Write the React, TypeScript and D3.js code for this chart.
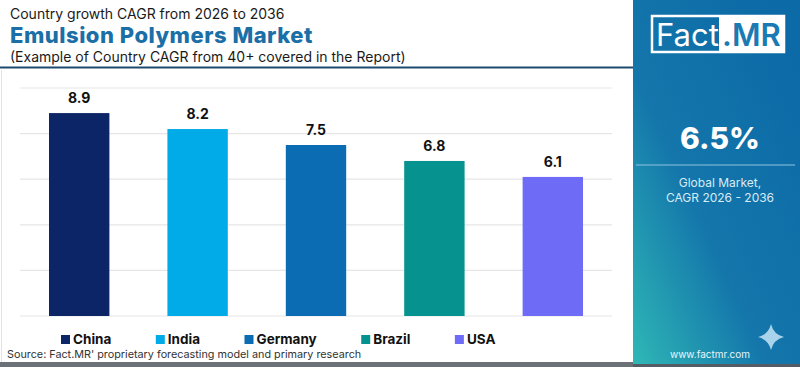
import React, { useEffect, useRef } from "react";
import * as d3 from "d3";

const countries = ["China", "India", "Germany", "Brazil", "USA"];
const cagr = [8.9, 8.2, 7.5, 6.8, 6.1];
const barColors = ["#0b2566", "#00abe8", "#0b6cb4", "#06938f", "#6e6cf6"];
const gridTicks = [0, 2, 4, 6, 8, 10];

const FONT = "Inter, 'Open Sans', sans-serif";

export default function App() {
  const svgRef = useRef<SVGSVGElement>(null);

  useEffect(() => {
    const W = 800;
    const H = 367;
    const svg = d3.select(svgRef.current);
    svg.selectAll("*").remove();
    svg.attr("width", W).attr("height", H).style("font-family", FONT);

    const defs = svg.append("defs");
    const grad = defs.append("linearGradient")
      .attr("id", "panelGrad")
      .attr("x1", "0.9").attr("y1", "0.1")
      .attr("x2", "0").attr("y2", "1");
    grad.append("stop").attr("offset", "0").attr("stop-color", "#0c6aa6");
    grad.append("stop").attr("offset", "0.55").attr("stop-color", "#1476ab");
    grad.append("stop").attr("offset", "1").attr("stop-color", "#2fb8b6");

    // background card
    svg.append("rect").attr("width", W).attr("height", H).attr("fill", "#ffffff");
    svg.append("line")
      .attr("x1", 1.5).attr("x2", 1.5).attr("y1", 70).attr("y2", H)
      .attr("stroke", "#e2e2e2").attr("stroke-width", 1);

    // titles
    svg.append("text").attr("x", 10).attr("y", 18.5)
      .attr("font-size", 14).attr("fill", "#1a1a1a")
      .text("Country growth CAGR from 2026 to 2036");
    svg.append("text").attr("x", 10).attr("y", 43)
      .attr("font-size", 22).attr("font-weight", 800).attr("fill", "#1b6fa6")
      .attr("letter-spacing", 0.5)
      .text("Emulsion Polymers Market");
    svg.append("text").attr("x", 10).attr("y", 62)
      .attr("font-size", 14).attr("fill", "#1a1a1a")
      .text("(Example of Country CAGR from 40+ covered in the Report)");
    svg.append("line")
      .attr("x1", 0).attr("x2", 633).attr("y1", 67.5).attr("y2", 67.5)
      .attr("stroke", "#1d4a6e").attr("stroke-width", 2);

    // scales
    const x = d3.scaleBand<string>()
      .domain(countries)
      .range([20, 612])
      .paddingInner(0.49)
      .paddingOuter(0.245);
    const y = d3.scaleLinear().domain([0, 10]).range([316, 88]);

    // grid
    svg.append("g")
      .selectAll("line")
      .data(gridTicks)
      .join("line")
      .attr("x1", 20).attr("x2", 612)
      .attr("y1", d => y(d)).attr("y2", d => y(d))
      .attr("stroke", "#e6e6e6").attr("stroke-width", 1.2);

    // bars
    svg.append("g")
      .selectAll("rect")
      .data(cagr)
      .join("rect")
      .attr("x", (d, i) => x(countries[i])!)
      .attr("width", x.bandwidth())
      .attr("y", d => y(d))
      .attr("height", d => y(0) - y(d))
      .attr("fill", (d, i) => barColors[i]);

    svg.append("g")
      .selectAll("text")
      .data(cagr)
      .join("text")
      .attr("x", (d, i) => x(countries[i])! + x.bandwidth() / 2)
      .attr("y", d => y(d) - 10)
      .attr("text-anchor", "middle")
      .attr("font-size", 14)
      .attr("font-weight", 700)
      .attr("fill", "#111")
      .text(d => d.toFixed(1));

    // legend (flow layout)
    const legend = svg.append("g");
    let lx = 61;
    countries.forEach((c, i) => {
      const g = legend.append("g").attr("transform", `translate(${lx},0)`);
      g.append("rect").attr("x", 0).attr("y", 335).attr("width", 9).attr("height", 9)
        .attr("fill", barColors[i]);
      const t = g.append("text").attr("x", 12).attr("y", 344)
        .attr("font-size", 13.5).attr("font-weight", 700).attr("fill", "#111")
        .text(c);
      const w = (t.node() as SVGTextElement).getComputedTextLength();
      lx += 12 + w + 44.5;
    });

    svg.append("text").attr("x", 7).attr("y", 358)
      .attr("font-size", 10.8).attr("fill", "#333")
      .text("Source: Fact.MR' proprietary forecasting model and primary research");
    svg.append("rect").attr("x", 0).attr("y", 362).attr("width", 633).attr("height", 5)
      .attr("fill", "#6b7177");

    // right panel
    const px = 633;
    svg.append("rect").attr("x", px).attr("y", 0).attr("width", W - px).attr("height", H)
      .attr("fill", "url(#panelGrad)");
    svg.append("rect").attr("x", px).attr("y", 364).attr("width", W - px).attr("height", 3)
      .attr("fill", "#555c63");

    // logo
    svg.append("rect").attr("x", 652).attr("y", 16).attr("width", 132).attr("height", 36)
      .attr("fill", "none").attr("stroke", "#ffffff").attr("stroke-width", 2.5);
    svg.append("rect").attr("x", 719).attr("y", 16).attr("width", 65).attr("height", 36)
      .attr("fill", "#ffffff");
    svg.append("text").attr("x", 656).attr("y", 46)
      .attr("font-size", 31).attr("fill", "#ffffff").attr("font-weight", 400)
      .text("Fact");
    svg.append("text").attr("x", 722).attr("y", 46)
      .attr("font-size", 31).attr("fill", "#1a7ab3").attr("font-weight", 600)
      .text(".MR");

    svg.append("text").attr("x", 720).attr("y", 149)
      .attr("text-anchor", "middle")
      .attr("font-size", 30).attr("font-weight", 800).attr("fill", "#ffffff")
      .text("6.5%");
    svg.append("line").attr("x1", 636).attr("x2", 795).attr("y1", 165).attr("y2", 165)
      .attr("stroke", "#8fc4e0").attr("stroke-width", 1.2);
    svg.append("text").attr("x", 720).attr("y", 187)
      .attr("text-anchor", "middle").attr("font-size", 12).attr("fill", "#d8ecf6")
      .text("Global Market,");
    svg.append("text").attr("x", 720).attr("y", 202)
      .attr("text-anchor", "middle").attr("font-size", 12).attr("fill", "#d8ecf6")
      .text("CAGR 2026 - 2036");

    // star sparkle
    const cx = 771, cy = 337, r = 13, k = 2.5;
    svg.append("path")
      .attr("d", `M${cx},${cy - r} Q${cx + k},${cy - k} ${cx + r},${cy} Q${cx + k},${cy + k} ${cx},${cy + r} Q${cx - k},${cy + k} ${cx - r},${cy} Q${cx - k},${cy - k} ${cx},${cy - r}Z`)
      .attr("fill", "#a9d3ea");

    svg.append("text").attr("x", 710).attr("y", 358)
      .attr("text-anchor", "middle").attr("font-size", 10).attr("fill", "#e8f4fa")
      .text("www.factmr.com");
  }, []);

  return (
    <svg ref={svgRef} style={{ position: "absolute", left: 0, top: 0, display: "block" }}></svg>
  );
}
